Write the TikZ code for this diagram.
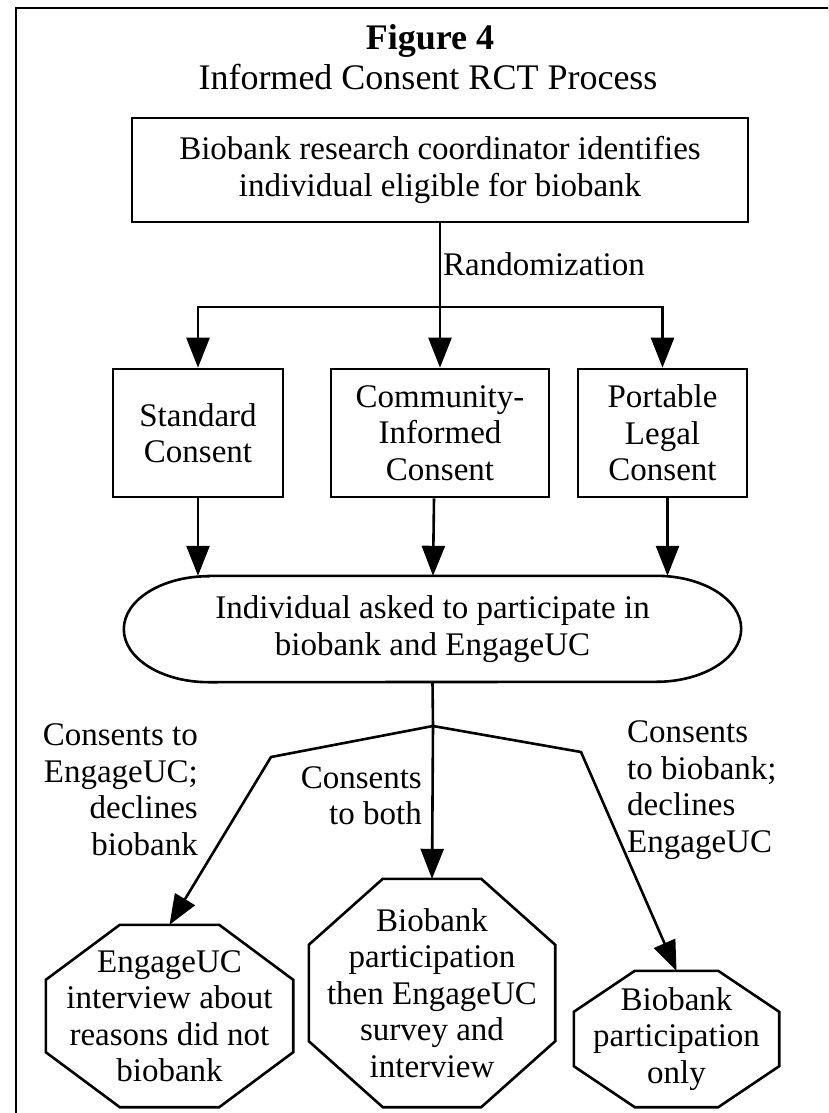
\documentclass[tikz,border=0pt]{standalone}
\usepackage{fontspec}
\setmainfont{Liberation Serif}
\usetikzlibrary{arrows.meta,calc}

\begin{document}
\begin{tikzpicture}[x=1pt,y=-1pt,
	every node/.style={inner sep=0pt,font=\fontsize{33}{36.5}\selectfont},
	boxline/.style={line width=2.6pt},
	link/.style={line width=2.6pt,-{Triangle[length=30pt,width=23pt]}},
	stepbox/.style={draw,line width=2.6pt,align=center,minimum height=128pt},
	octa/.style={align=center}]
	\clip (0,0) rectangle (828,1113);
	% frame: only its top and left sides are on the page
	\draw[boxline] (16,1140) -- (16,8) -- (850,8);

	\node[anchor=base,font=\fontsize{36}{40}\selectfont\bfseries] (Title) at (430,50) {Figure 4};
	\node[anchor=base,font=\fontsize{36}{40}\selectfont] (Subtitle) at (428,90) {Informed Consent RCT Process};

	\node[stepbox,minimum width=616pt,minimum height=104pt] (Coordinator) at (440,170) {Biobank research coordinator identifies\\individual eligible for biobank};
	\node[anchor=base west] (Random) at (443,275) {Randomization};
	\coordinate (Split) at (440,307);

	\node[stepbox,minimum width=170pt] (Standard) at (198,433) {Standard\\Consent};
	\node[stepbox,minimum width=218pt] (Community) at (440,433) {Community-\\Informed\\Consent};
	\node[stepbox,minimum width=169pt] (Portable) at (662.5,433) {Portable\\Legal\\Consent};

	\draw[boxline] (Coordinator.south) -- (Split);
	\draw[link] (Split) -| (Standard.north);
	\draw[link] (Split) -- (Community.north);
	\draw[link] (Split) -| (Portable.north);

	% rounded ends of the middle step
	\node[minimum width=617pt,minimum height=106pt,align=center] (Asked) at (432.5,629) {Individual asked to participate in\\biobank and EngageUC};
	\draw[boxline] ($(Asked.north west)+(85,0)$) -- ($(Asked.north east)+(-85,0)$)
		arc[start angle=90,end angle=-90,x radius=85pt,y radius=53pt]
		-- ($(Asked.south west)+(85,0)$)
		arc[start angle=270,end angle=90,x radius=85pt,y radius=53pt] -- cycle;

	\draw[link] (Standard.south) -- (Standard.south |- Asked.north);
	\draw[link] ([xshift=-6pt]Community.south) -- ([xshift=-7pt]Community.south |- Asked.north);
	\draw[link] ([xshift=5pt]Portable.south) -- ([xshift=5pt]Portable.south |- Asked.north);

	\coordinate (Fork) at (433,726);
	\coordinate (BendL) at (271,757);
	\coordinate (BendR) at (581,752);

	\node[octa,minimum width=247pt,minimum height=182pt] (OctEngage) at (169.5,1016) {EngageUC\\interview about\\reasons did not\\biobank};
	\node[octa,minimum width=246pt,minimum height=228pt] (OctBoth) at (432,993) {Biobank\\participation\\then EngageUC\\survey and\\interview};
	\node[octa,minimum width=205pt,minimum height=136pt] (OctBiobank) at (676.5,1039) {Biobank\\participation\\only};

	\draw[boxline] ($(OctEngage.north west)+(74,0)$) -- ($(OctEngage.north east)+(-74,0)$) -- ($(OctEngage.north east)+(0,55)$) -- ($(OctEngage.south east)+(0,-55)$) -- ($(OctEngage.south east)+(-74,0)$) -- ($(OctEngage.south west)+(74,0)$) -- ($(OctEngage.south west)+(0,-55)$) -- ($(OctEngage.north west)+(0,55)$) -- cycle;
	\draw[boxline] ($(OctBoth.north west)+(74,0)$) -- ($(OctBoth.north east)+(-74,0)$) -- ($(OctBoth.north east)+(0,66)$) -- ($(OctBoth.south east)+(0,-66)$) -- ($(OctBoth.south east)+(-74,0)$) -- ($(OctBoth.south west)+(74,0)$) -- ($(OctBoth.south west)+(0,-66)$) -- ($(OctBoth.north west)+(0,66)$) -- cycle;
	\draw[boxline] ($(OctBiobank.north west)+(61,0)$) -- ($(OctBiobank.north east)+(-61,0)$) -- ($(OctBiobank.north east)+(0,41)$) -- ($(OctBiobank.south east)+(0,-41)$) -- ($(OctBiobank.south east)+(-61,0)$) -- ($(OctBiobank.south west)+(61,0)$) -- ($(OctBiobank.south west)+(0,-41)$) -- ($(OctBiobank.north west)+(0,41)$) -- cycle;

	\draw[boxline] (Asked.south) -- (Fork);
	\draw[link] (Fork) -- (OctBoth.north);
	\draw[link] (Fork) -- (BendL) -- (OctEngage.north);
	\draw[link] (Fork) -- (BendR) -- (OctBiobank.north);

	\node[anchor=east,align=right] (LblEngage) at (198,789.5) {Consents to\\EngageUC;\\declines\\biobank};
	\node[anchor=east,align=right] (LblBoth) at (422,795.5) {Consents\\to both};
	\node[anchor=west,align=left] (LblBiobank) at (627,790) {Consents\\to biobank;\\declines\\EngageUC};
\end{tikzpicture}
\end{document}
